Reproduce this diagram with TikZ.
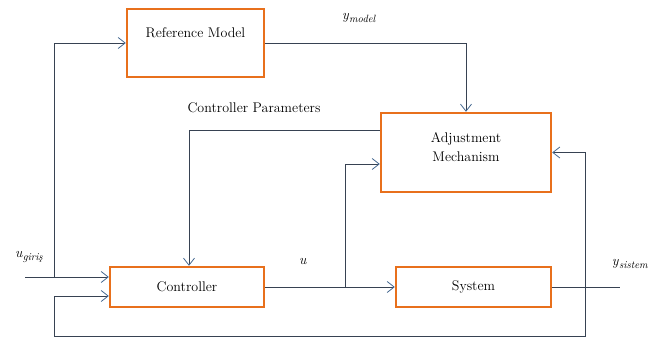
\documentclass[tikz,border=0pt]{standalone}
\usepackage{fontspec}
\usetikzlibrary{arrows.meta}
\definecolor{boxorange}{RGB}{232,112,28}
\definecolor{wire}{RGB}{55,66,82}
\definecolor{tipblue}{RGB}{70,105,145}
\newcommand{\siglabel}[2]{\textit{#1}\raisebox{-2.5pt}{\fontsize{10.5}{12}\selectfont\textit{#2}}}
\begin{document}
\begin{tikzpicture}[x=1pt,y=-1pt,
  block/.style={draw=boxorange,line width=2.4pt,fill=white,inner sep=0pt,
    font=\fontsize{14}{17}\selectfont},
  lbl/.style={inner sep=0pt,font=\fontsize{14}{17}\selectfont},
  sig/.style={inner sep=0pt,font=\fontsize{14}{16}\selectfont},
  wireline/.style={draw=wire,line width=0.8pt},
  arr/.style={wireline,-{Straight Barb[length=7pt,width=11pt,line width=0.8pt,color=tipblue]}}]
  \useasboundingbox (0,0) rectangle (658,340);

  % blocks
  \node[block,minimum width=137pt,minimum height=68pt] (rm) at (195.5,43) {};
  \node[lbl] (rmt) at (195.5,33) {Reference Model};
  \node[block,minimum width=170pt,minimum height=79pt] (am) at (466,152.5) {};
  \node[lbl,align=center] (amt) at (466,147) {Adjustment\\[2pt]Mechanism};
  \node[block,minimum width=154pt,minimum height=40pt] (ctrl) at (187,287) {Controller};
  \node[block,minimum width=155pt,minimum height=40pt] (sys) at (473.5,287) {System};

  % helper points
  \coordinate (uin) at (25,277);
  \coordinate (br1) at (54,277);
  \coordinate (cpy) at (0,130);
  \coordinate (br2) at (345,287);
  \coordinate (amin) at (0,164);
  \coordinate (yout) at (620,287);
  \coordinate (fb) at (585,287);
  \coordinate (fbb) at (585,336);
  \coordinate (fbl) at (54,336);
  \coordinate (fbc) at (54,296);

  % connectors
  \draw[arr] (uin) -- (uin -| ctrl.west);
  \draw[arr] (br1) |- (rm.west);
  \draw[arr] (rm.east) -| (am.north);
  \draw[arr] (am.west |- cpy) -| ([xshift=2pt]ctrl.north);
  \draw[arr] (ctrl.east) -- (sys.west);
  \draw[arr] (br2) |- (am.west |- amin);
  \draw[wireline] (sys.east) -- (yout);
  \draw[arr] (fb) |- (am.east);
  \draw[arr] (fb) -- (fbb) -- (fbl) -- (fbc) -- (fbc -| ctrl.west);

  % labels
  \node[sig] (lu) at (29,257) {\siglabel{u}{giriş}};
  \node[sig] (lym) at (359,18) {\siglabel{y}{model}};
  \node[sig] (lu2) at (303,261) {\textit{u}};
  \node[sig] (lys) at (630,264) {\siglabel{y}{sistem}};
  \node[lbl] (lcp) at (254,108) {Controller Parameters};
\end{tikzpicture}
\end{document}
